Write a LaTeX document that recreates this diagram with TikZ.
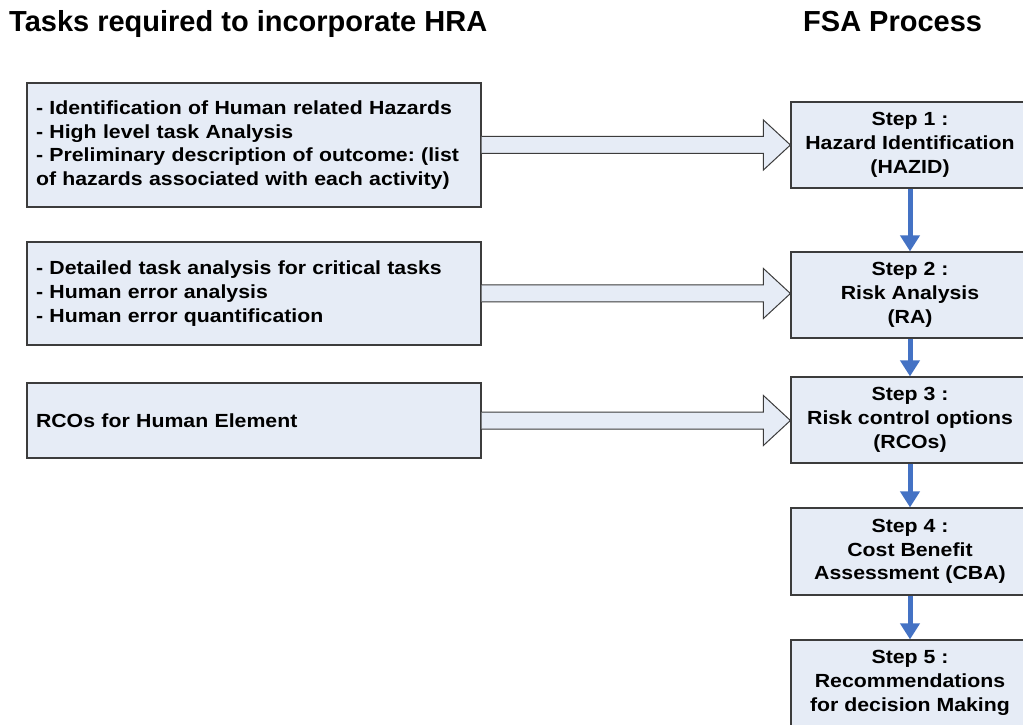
\documentclass[tikz,border=0pt]{standalone}
\usepackage{fontspec}
\setmainfont{Liberation Sans}
\newfontfamily\bodyfont[FakeStretch=1.12]{Liberation Sans}
\usetikzlibrary{arrows.meta,calc}
\frenchspacing
\definecolor{boxfill}{RGB}{230,236,246}
\definecolor{boxline}{RGB}{60,60,60}
\definecolor{flowblue}{RGB}{68,114,196}
\tikzset{
  x=1pt,y=1pt,
  taskbox/.style={draw=boxline,fill=boxfill,line width=1.2pt,minimum width=454pt,
    text width=436pt,inner xsep=9pt,inner ysep=0pt,align=left,
    font=\bodyfont\bfseries\fontsize{19}{23.8}\selectfont},
  stepbox/.style={draw=boxline,fill=boxfill,line width=1.2pt,minimum width=238pt,
    minimum height=86pt,inner sep=0pt,align=center,
    font=\bodyfont\bfseries\fontsize{19}{23.8}\selectfont},
  title/.style={anchor=base west,inner sep=0pt,font=\bfseries\fontsize{29}{34}\selectfont},
  hollow/.style={draw=boxline,fill=boxfill,line width=1pt,line join=miter},
  flow/.style={draw=flowblue,line width=5pt,-{Triangle[width=19pt,length=16pt]}}
}
\begin{document}
\begin{tikzpicture}
\clip (0,0) rectangle (1023,724);
\fill[white] (0,0) rectangle (1023,724);
% titles
\node[title] (t1) at (9,692) {Tasks required to incorporate HRA};
\node[title] (t2) at (803,692) {FSA Process};
% left boxes
\node[taskbox,minimum height=124pt] (l1) at (254,579) {- Identification of Human related Hazards\\- High level task Analysis\\- Preliminary description of outcome: (list\\of hazards associated with each activity)};
\node[taskbox,minimum height=103pt] (l2) at (254,430.5) {- Detailed task analysis for critical tasks\\- Human error analysis\\- Human error quantification};
\node[taskbox,minimum height=75pt] (l3) at (254,303.5) {RCOs for Human Element};
% step boxes
\node[stepbox] (s1) at (910,579) {Step 1 :\\Hazard Identification\\(HAZID)};
\node[stepbox] (s2) at (910,429) {Step 2 :\\Risk Analysis\\(RA)};
\node[stepbox] (s3) at (910,304) {Step 3 :\\Risk control options\\(RCOs)};
\node[stepbox,minimum height=87pt] (s4) at (910,172.5) {Step 4 :\\Cost Benefit\\Assessment (CBA)};
\node[stepbox] (s5) at (910,41) {Step 5 :\\Recommendations\\for decision Making};
% hollow arrows
\foreach \a/\b in {l1/s1,l2/s2,l3/s3}{
  \coordinate (tip) at (\b.west |- \a.east);
  \draw[hollow] ($(\a.east)+(0,8.5)$) -- ($(tip)+(-27,8.5)$) -- ($(tip)+(-27,25)$) -- (tip)
    -- ($(tip)+(-27,-25)$) -- ($(tip)+(-27,-8.5)$) -- ($(\a.east)+(0,-8.5)$);
}
% flow arrows
\draw[flow] (s1.south) -- (s2.north);
\draw[flow] (s2.south) -- (s3.north);
\draw[flow] (s3.south) -- (s4.north);
\draw[flow] (s4.south) -- (s5.north);
\end{tikzpicture}
\end{document}
